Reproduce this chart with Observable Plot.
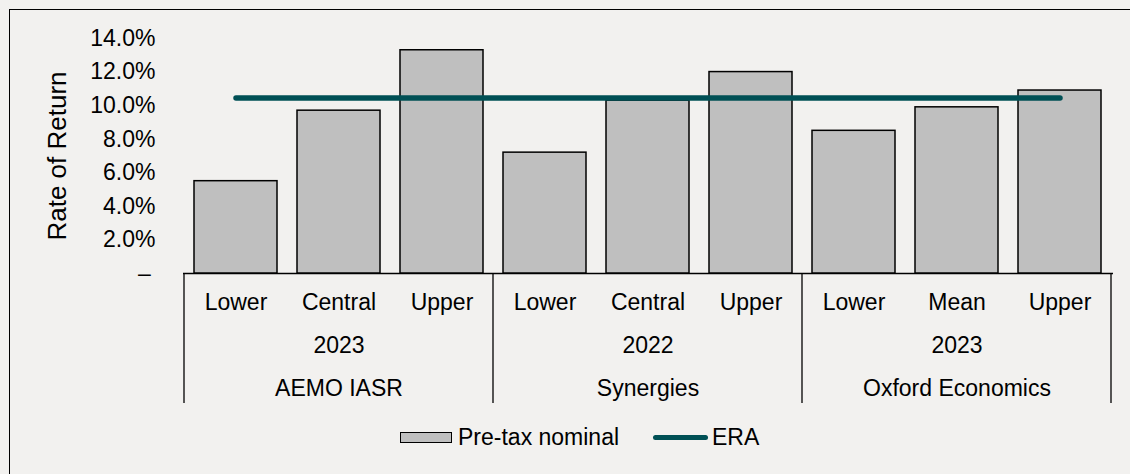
<!DOCTYPE html>
<html><head><meta charset="utf-8">
<script src="https://cdn.jsdelivr.net/npm/d3@7"></script>
<script src="https://cdn.jsdelivr.net/npm/@observablehq/plot@0.6"></script>
<style>
html,body{margin:0;padding:0;background:#f2f1ef;}
#wrap{position:relative;width:1130px;height:474px;overflow:hidden;background:#f2f1ef;font-family:"Liberation Sans",Arial,sans-serif;color:#000;}
#frame{position:absolute;left:9px;top:9px;width:1300px;height:700px;border:1px solid #000;box-sizing:border-box;}
#chart{position:absolute;left:0;top:0;}
.lg{position:absolute;font-size:23px;line-height:23px;white-space:nowrap;}
</style></head>
<body>
<div id="wrap"><div id="frame"></div><div id="chart"></div><div id="legend"></div></div>
<script>
// ---- data ----
const groups    = ["AEMO IASR","AEMO IASR","AEMO IASR","Synergies","Synergies","Synergies","Oxford Economics","Oxford Economics","Oxford Economics"];
const years     = ["2023","2023","2023","2022","2022","2022","2023","2023","2023"];
const scenarios = ["Lower","Central","Upper","Lower","Central","Upper","Lower","Mean","Upper"];
const preTaxNominal = [5.5, 9.7, 13.3, 7.2, 10.3, 12.0, 8.5, 9.9, 10.9];
const eraRate       = [10.45,10.45,10.45,10.45,10.45,10.45,10.45,10.45,10.45];
const yTicks = [0, 2, 4, 6, 8, 10, 12, 14];
const seriesNames = ["Pre-tax nominal", "ERA"];
const yTitle = "Rate of Return";

const barFill = "#bfbfbf", eraColor = "#005055";

const rows = scenarios.map((s, i) => ({
  key: groups[i] + "|" + s, group: groups[i], year: years[i], scenario: s,
  value: preTaxNominal[i], era: eraRate[i]
}));
const keys = rows.map(d => d.key);
const groupNames = [...new Set(groups)];
const groupRows = groupNames.map(g => {
  const r = rows.filter(d => d.group === g);
  return {group: g, year: r[0].year, firstKey: r[0].key, lastKey: r[r.length-1].key, midKey: r[Math.floor(r.length/2)].key};
});

const fmt = d => d === 0 ? "\u2013\u2009" : d.toFixed(1) + "%";

function groupDividers(index, scales, values, dim) {
  const x = scales.x, y = scales.y;
  const step = x(keys[1]) - x(keys[0]);
  const bw = x.bandwidth ? x.bandwidth() : step * 0.81;
  const gap = (step - bw) / 2;
  const xs = groupRows.map(g => x(g.firstKey) - gap)
    .concat([x(groupRows[groupRows.length-1].lastKey) + bw + gap]);
  const g = d3.create("svg:g");
  g.selectAll("line").data(xs).join("line")
    .attr("x1", d => d).attr("x2", d => d)
    .attr("y1", y(0)).attr("y2", dim.height - 2)
    .attr("stroke", "#000").attr("stroke-width", 1.3);
  return g.node();
}

const chart = Plot.plot({
  width: 1130, height: 405,
  marginLeft: 183, marginRight: 17, marginTop: 38, marginBottom: 132,
  style: {background: "transparent", fontFamily: "'Liberation Sans', Arial, sans-serif", fontSize: "23px", color: "#000", overflow: "visible"},
  x: {type: "band", domain: keys, paddingInner: 0.19, paddingOuter: 0.095, axis: null},
  y: {domain: [0, 14], axis: null},
  marks: [
    Plot.axisY({ticks: yTicks, tickSize: 0, tickPadding: 28, tickFormat: fmt, fontSize: 23, label: null}),
    Plot.text([yTitle], {text: d => d, frameAnchor: "left", rotate: -90, dx: -126, fontSize: 26, textAnchor: "middle", lineAnchor: "middle"}),
    Plot.ruleY([0], {stroke: "#000", strokeWidth: 1.3}),
    groupDividers,
    Plot.barY(rows, {x: "key", y: "value", fill: barFill, stroke: "#000", strokeWidth: 1.5}),
    Plot.lineY(rows, {x: "key", y: "era", stroke: eraColor, strokeWidth: 5.5, strokeLinecap: "round"}),
    Plot.text(rows, {x: "key", text: "scenario", frameAnchor: "bottom", lineAnchor: "middle", dy: 29, fontSize: 23}),
    Plot.text(groupRows, {x: "midKey", text: "year", frameAnchor: "bottom", lineAnchor: "middle", dy: 72, fontSize: 23}),
    Plot.text(groupRows, {x: "midKey", text: "group", frameAnchor: "bottom", lineAnchor: "middle", dy: 115, fontSize: 23})
  ]
});
document.getElementById("chart").appendChild(chart);

// legend
const lg = document.getElementById("legend");
lg.innerHTML =
  `<div class="lg" style="left:400px;top:432px;width:52px;height:11px;box-sizing:border-box;border:1.5px solid #000;background:${barFill}"></div>` +
  `<div class="lg" style="left:458px;top:426px">${seriesNames[0]}</div>` +
  `<div class="lg" style="left:653px;top:434.5px;width:55px;height:5.5px;border-radius:3px;background:${eraColor}"></div>` +
  `<div class="lg" style="left:712px;top:426px">${seriesNames[1]}</div>`;
</script>
</body></html>
